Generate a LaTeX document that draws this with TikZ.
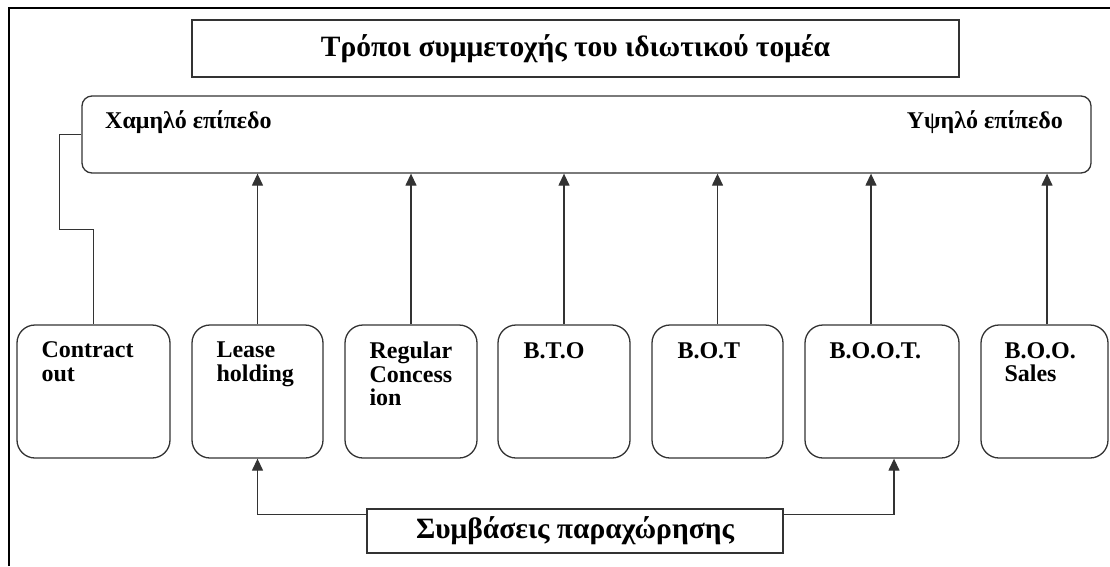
\documentclass[tikz,border=0pt]{standalone}
\usepackage{fontspec}
\setmainfont{Liberation Serif}
\usetikzlibrary{arrows.meta}
\begin{document}
\begin{tikzpicture}[x=1pt,y=-1pt,
  line/.style={draw=black!80, line width=1.3pt},
  arr/.style={line, -{Triangle[length=12pt,width=11pt]}},
  plainbox/.style={line, rectangle, inner sep=0pt},
  modebox/.style={line, rectangle, rounded corners=18pt, inner sep=0pt, minimum height=133pt},
  txt/.style={font=\fontsize{24}{23.5}\selectfont\bfseries, inner sep=0pt, text=black},
  bigtxt/.style={font=\fontsize{29.5}{30}\selectfont\bfseries, inner sep=0pt, text=black},
  boxtxt/.style={txt, align=left, anchor=north west}
]
\useasboundingbox (0,0) rectangle (1110,566);
\fill[white] (0,0) rectangle (1110,566);

% outer frame (top and left edges)
\draw[line width=2.2pt, black] (9,566) |- (1110,8);

% heading
\node[plainbox, minimum width=767pt, minimum height=57pt, bigtxt] (title) at (575.5,48.5)
  {Τρόποι συμμετοχής του ιδιωτικού τομέα};

% scale of private participation
\node[line, rectangle, rounded corners=10pt, minimum width=1009pt, minimum height=77pt] (level) at (586.5,134.5) {};
\node[txt, anchor=base west] (low) at (105,128) {Χαμηλό επίπεδο};
\node[txt, anchor=base east] (high) at (1063,128) {Υψηλό επίπεδο};

% participation modes
\node[modebox, minimum width=153pt] (contract) at (93.5,391.5) {};
\node[modebox, minimum width=131pt] (lease)    at (257.5,391.5) {};
\node[modebox, minimum width=132pt] (regular)  at (411,391.5) {};
\node[modebox, minimum width=132pt] (bto)      at (564,391.5) {};
\node[modebox, minimum width=131pt] (bot)      at (717.5,391.5) {};
\node[modebox, minimum width=154pt] (boot)     at (882,391.5) {};
\node[modebox, minimum width=127pt] (boo)      at (1044.5,391.5) {};

\node[boxtxt] (contractT) at ([xshift=25pt,yshift=-17.5pt]contract.north west) {Contract\\out};
\node[boxtxt] (leaseT)    at ([xshift=25pt,yshift=-17.5pt]lease.north west) {Lease\\holding};
\node[boxtxt] (regularT)  at ([xshift=25pt,yshift=-17.5pt]regular.north west) {Regular\\Concess\\ion};
\node[boxtxt] (btoT)      at ([xshift=26pt,yshift=-18pt]bto.north west) {B.T.O};
\node[boxtxt] (botT)      at ([xshift=26pt,yshift=-18pt]bot.north west) {B.O.T};
\node[boxtxt] (bootT)     at ([xshift=25pt,yshift=-18pt]boot.north west) {B.O.O.T.};
\node[boxtxt] (booT)      at ([xshift=24pt,yshift=-18pt]boo.north west) {B.O.O.\\Sales};

% concession contracts
\node[plainbox, minimum width=416pt, minimum height=44pt, bigtxt] (conc) at (575,531)
  {Συμβάσεις παραχώρησης};

% connectors to the scale
\draw[line] (level.west) -| ++(-22,95) -| (contract.north);
\draw[arr] (lease.north) -- (lease.north |- level.south);
\draw[arr] (regular.north) -- (regular.north |- level.south);
\draw[arr] (bto.north) -- (bto.north |- level.south);
\draw[arr] (bot.north) -- (bot.north |- level.south);
\draw[arr] ([xshift=-11pt]boot.north) -- ([xshift=-11pt]boot.north |- level.south);
\draw[arr] ([xshift=2.5pt]boo.north) -- ([xshift=2.5pt]boo.north |- level.south);

% connectors from the concession contracts
\draw[arr] ([yshift=-6pt]conc.north west) -| (lease.south);
\draw[arr] ([yshift=-6pt]conc.north east) -| ([xshift=12pt]boot.south);
\end{tikzpicture}
\end{document}
